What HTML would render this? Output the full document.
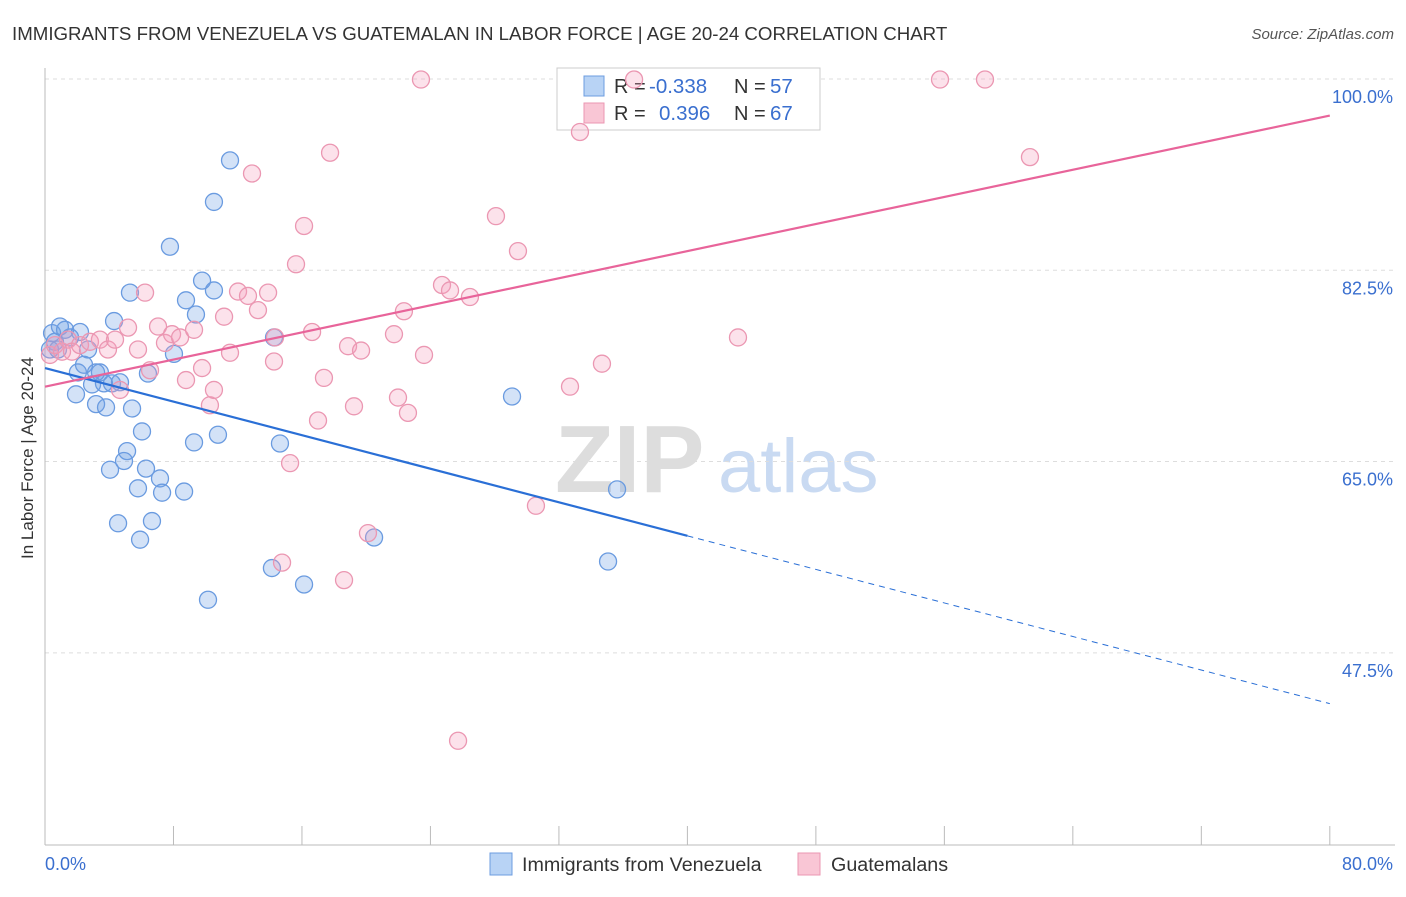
<!DOCTYPE html>
<html><head><meta charset="utf-8"><style>
body{margin:0;background:#fff;font-family:"Liberation Sans",sans-serif;}
svg text{font-family:"Liberation Sans",sans-serif;}
</style></head><body>
<svg id="chart" width="1406" height="892" xmlns="http://www.w3.org/2000/svg">
<text x="12" y="40" font-size="18.7" fill="#333">IMMIGRANTS FROM VENEZUELA VS GUATEMALAN IN LABOR FORCE | AGE 20-24 CORRELATION CHART</text>
<text x="1394" y="39" font-size="15" fill="#555" font-style="italic" text-anchor="end">Source: ZipAtlas.com</text>
<text transform="translate(33,458) rotate(-90)" font-size="17" fill="#333" text-anchor="middle">In Labor Force | Age 20-24</text>
<g>
<text x="555" y="492" font-size="96" fill="#ddd" font-family="Liberation Serif" font-weight="bold">ZIP</text>
<text x="718" y="492" font-size="76" fill="#c9daf2">atlas</text>
</g>
<g id="grid"></g><g id="axes"></g>
<g>
<rect x="557" y="68" width="263" height="62" fill="#fff" stroke="#ccc"/>
<rect x="584" y="76" width="20" height="20" fill="#b8d3f5" stroke="#6c9de0"/>
<rect x="584" y="103" width="20" height="20" fill="#f9c6d5" stroke="#eb97b2"/>
<text x="614" y="93" font-size="20" fill="#333">R = </text><text x="649" y="93" font-size="20.5" fill="#3a6fcf">-0.338</text>
<text x="734" y="93" font-size="20" fill="#333">N = </text><text x="770" y="93" font-size="20.5" fill="#3a6fcf">57</text>
<text x="614" y="120" font-size="20" fill="#333">R = </text><text x="659" y="120" font-size="20.5" fill="#3a6fcf">0.396</text>
<text x="734" y="120" font-size="20" fill="#333">N = </text><text x="770" y="120" font-size="20.5" fill="#3a6fcf">67</text>
</g>
<g id="pts"></g><g id="lines"></g>
<g>
<rect x="490" y="853" width="22" height="22" fill="#b8d3f5" stroke="#6c9de0"/>
<text x="522" y="871" font-size="19.7" fill="#333">Immigrants from Venezuela</text>
<rect x="798" y="853" width="22" height="22" fill="#f9c6d5" stroke="#eb97b2"/>
<text x="831" y="871" font-size="19.7" fill="#333">Guatemalans</text>
</g>
</svg>
<script>
const blueX=[.44,.62,.31,.93,1.25,1.56,.81,2.18,2.68,2.05,2.43,2.93,3.42,3.67,4.17,4.67,3.18,3.80,1.93,5.42,4.30,5.29,6.41,8.03,8.78,9.40,9.78,10.52,7.78,10.52,11.52,6.04,5.11,4.05,4.92,6.29,7.16,5.79,7.29,8.66,9.28,10.77,4.55,6.66,5.92,10.15,14.13,16.13,14.63,14.26,20.49,29.08,35.62,35.06,3.18];
const blueY=[78.4,77.6,76.9,79.0,78.7,78.0,76.9,78.5,76.9,74.8,75.5,73.7,74.8,73.8,73.8,73.9,71.9,71.6,72.8,71.5,79.5,82.1,74.7,76.5,81.4,80.1,83.2,82.3,86.3,90.4,94.2,69.4,67.6,65.9,66.7,66.0,65.1,64.2,63.8,63.9,68.4,69.1,61.0,61.2,59.5,54.0,56.9,55.4,68.3,78.0,59.7,72.6,64.1,57.5,74.8];
const pinkX=[.31,.62,1.06,1.43,1.68,2.18,2.80,3.42,3.92,4.36,4.67,5.17,5.79,6.54,7.04,7.47,7.91,8.41,8.78,9.28,9.78,10.27,10.52,11.15,11.52,12.02,12.64,13.26,13.89,12.89,15.63,14.26,14.32,16.13,16.63,15.26,17.00,17.37,17.75,18.87,19.24,19.68,20.11,18.62,21.73,21.98,22.35,22.60,23.60,24.72,25.22,26.46,28.08,29.45,30.57,32.69,33.31,34.68,36.68,43.15,55.73,58.53,61.33,23.41,25.72,14.76,6.23];
const pinkY=[76.4,77.3,76.7,77.8,76.7,77.3,77.6,77.8,76.9,77.8,73.2,78.9,76.9,75.0,79.0,77.5,78.3,78.0,74.1,78.7,75.2,71.8,73.2,79.9,76.6,82.2,81.8,80.5,82.1,93.0,84.7,75.8,78.0,88.2,78.5,66.5,70.4,74.3,94.9,77.2,71.7,76.8,60.1,55.8,78.3,72.5,80.4,71.1,76.4,82.8,82.3,81.7,89.1,85.9,62.6,73.5,96.8,75.6,101.6,78.0,101.6,101.6,94.5,101.6,41.1,57.4,82.1];
const yTicks=[100,82.5,65,47.5];
const yTickLabels=["100.0%","82.5%","65.0%","47.5%"];
const xTickLabels=["0.0%","80.0%"];
const blueFit=[75.2,44.5];
const pinkFit=[73.5,98.3];
const blueSolidEnd=40;
const NS="http://www.w3.org/2000/svg";
const sx=v=>45+v*16.06;
const sy=v=>97+(100-v)*10.93;
function mk(tag,attrs,parent){const e=document.createElementNS(NS,tag);for(const k in attrs)e.setAttribute(k,attrs[k]);document.getElementById(parent).appendChild(e);return e;}
yTicks.forEach((t,i)=>{
 const g=mk('line',{x1:45,x2:1395,y1:sy(t)-18,y2:sy(t)-18,stroke:'#ddd','stroke-dasharray':'4,4'},'grid');
 
 
 const l=mk('text',{x:1393,y:sy(t)+6,'font-size':18,fill:'#3a6fcf','text-anchor':'end'},'axes');
 l.textContent=yTickLabels[i];
 
 
});
let a=mk('line',{x1:45,x2:45,y1:68,y2:845,stroke:'#bbb'},'axes');


a=mk('line',{x1:45,x2:1395,y1:845,y2:845,stroke:'#bbb'},'axes');


for(let i=1;i<=10;i++){const t=mk('line',{x1:sx(i*8),x2:sx(i*8),y1:826,y2:845,stroke:'#bbb'},'axes');
 
 }
[[0,'start',xTickLabels[0]],[80,'end',xTickLabels[1]]].forEach(([v,anc,s])=>{
 const l=mk('text',{x:v===0?45:1393,y:870,'font-size':18,fill:'#3a6fcf','text-anchor':anc},'axes');l.textContent=s;
 
 
});
blueX.forEach((x,i)=>{const c=mk('circle',{cx:sx(x),cy:sy(blueY[i]),r:8.5,fill:'rgba(110,160,230,0.3)',stroke:'#6a9be0','stroke-width':1.3},'pts');
 
 });
pinkX.forEach((x,i)=>{const c=mk('circle',{cx:sx(x),cy:sy(pinkY[i]),r:8.5,fill:'rgba(245,160,190,0.3)',stroke:'#eb97b2','stroke-width':1.3},'pts');
 
 });
const fy=(f,x)=>f[0]+(f[1]-f[0])*x/80;
let ln=mk('line',{x1:sx(0),y1:sy(fy(blueFit,0)),x2:sx(blueSolidEnd),y2:sy(fy(blueFit,blueSolidEnd)),stroke:'#2a6fd6','stroke-width':2.2},'lines');


ln=mk('line',{x1:sx(blueSolidEnd),y1:sy(fy(blueFit,blueSolidEnd)),x2:sx(80),y2:sy(fy(blueFit,80)),stroke:'#2a6fd6','stroke-width':1,'stroke-dasharray':'6,5'},'lines');


ln=mk('line',{x1:sx(0),y1:sy(fy(pinkFit,0)),x2:sx(80),y2:sy(fy(pinkFit,80)),stroke:'#e8649a','stroke-width':2.2},'lines');


</script>
</body></html>
